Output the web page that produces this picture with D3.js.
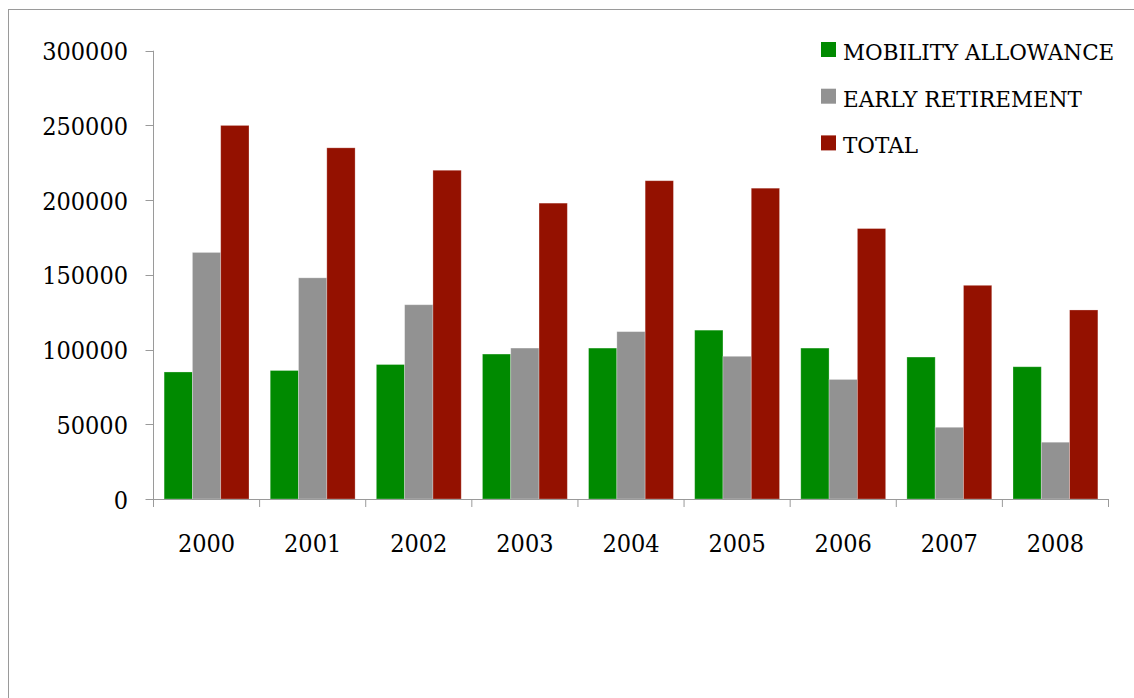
<!DOCTYPE html>
<html>
<head>
<meta charset="utf-8">
<script src="https://cdn.jsdelivr.net/npm/d3@7.9.0/dist/d3.min.js"></script>
<style>
  html, body { margin: 0; padding: 0; background: #fff; }
  svg { display: block; }
  .axis-label { font-family: 'DejaVu Serif Condensed', 'DejaVu Serif', serif; font-stretch: condensed; font-size: 25px; fill: #000; }
  .legend-label { font-family: 'DejaVu Serif', serif; font-size: 21.5px; fill: #000; }
</style>
</head>
<body>
<svg id="chart" width="1134" height="698"></svg>
<script>
const years = ['2000', '2001', '2002', '2003', '2004', '2005', '2006', '2007', '2008'];
const seriesNames = ['MOBILITY ALLOWANCE', 'EARLY RETIREMENT', 'TOTAL'];
const mobility = [85000, 86000, 90000, 97000, 101000, 113000, 101000, 95000, 88500];
const earlyRetirement = [165000, 148000, 130000, 101000, 112000, 95500, 80000, 48000, 38000];
const total = [250000, 235000, 220000, 198000, 213000, 208000, 181000, 143000, 126500];
const yTicks = [0, 50000, 100000, 150000, 200000, 250000, 300000];
const colors = ['#008a00', '#929292', '#941100'];

const seriesValues = [mobility, earlyRetirement, total];

const svg = d3.select('#chart');
const axisColor = '#9a9a9a';

// outer frame (only top and left edges are visible in the picture)
svg.append('rect')
  .attr('x', 8.5).attr('y', 9.5)
  .attr('width', 1200).attr('height', 800)
  .attr('fill', 'none').attr('stroke', axisColor).attr('stroke-width', 1);

const plot = { left: 153.5, right: 1108.5, top: 50.7, bottom: 499 };

const x = d3.scaleBand().domain(years).range([plot.left, plot.right]);
const bw = x.bandwidth();
const x1 = d3.scaleBand().domain(seriesNames).range([bw * 0.1, bw * 0.9]);
const y = d3.scaleLinear().domain([0, 300000]).range([plot.bottom, plot.top]);

// bars
seriesNames.forEach((name, si) => {
  svg.append('g')
    .selectAll('rect')
    .data(years.map((yr, i) => ({ yr, v: seriesValues[si][i] })))
    .join('rect')
    .attr('x', d => x(d.yr) + x1(name))
    .attr('y', d => y(d.v))
    .attr('width', x1.bandwidth())
    .attr('height', d => y(0) - y(d.v))
    .attr('fill', colors[si])
    .attr('stroke', 'rgba(255,255,255,0.35)')
    .attr('stroke-width', 0.8);
});

// y axis
const yAxis = svg.append('g');
yAxis.append('line')
  .attr('x1', plot.left).attr('x2', plot.left)
  .attr('y1', plot.top).attr('y2', plot.bottom)
  .attr('stroke', axisColor);
yAxis.selectAll('line.tick')
  .data(yTicks)
  .join('line')
  .attr('class', 'tick')
  .attr('x1', plot.left - 8).attr('x2', plot.left)
  .attr('y1', d => Math.round(y(d)) + 0.5).attr('y2', d => Math.round(y(d)) + 0.5)
  .attr('stroke', axisColor);
yAxis.selectAll('text')
  .data(yTicks)
  .join('text')
  .attr('class', 'axis-label')
  .attr('x', 128)
  .attr('y', d => y(d) + 9.5)
  .attr('text-anchor', 'end')
  .text(d => d);

// x axis
const xAxis = svg.append('g');
xAxis.append('line')
  .attr('x1', plot.left).attr('x2', plot.right)
  .attr('y1', plot.bottom + 0.5).attr('y2', plot.bottom + 0.5)
  .attr('stroke', axisColor);
const bounds = years.map(d => x(d)).concat([plot.right]);
xAxis.selectAll('line.tick')
  .data(bounds)
  .join('line')
  .attr('class', 'tick')
  .attr('x1', d => d).attr('x2', d => d)
  .attr('y1', plot.bottom).attr('y2', plot.bottom + 8)
  .attr('stroke', axisColor);
xAxis.selectAll('text')
  .data(years)
  .join('text')
  .attr('class', 'axis-label')
  .attr('x', d => x(d) + bw / 2)
  .attr('y', 551.5)
  .attr('text-anchor', 'middle')
  .text(d => d);

// legend
const legend = svg.append('g');
seriesNames.forEach((name, i) => {
  const ly = 42 + i * 46.7;
  legend.append('rect')
    .attr('x', 821).attr('y', ly)
    .attr('width', 15).attr('height', 15)
    .attr('fill', colors[i]);
  legend.append('text')
    .attr('class', 'legend-label')
    .attr('x', 843)
    .attr('y', ly + 18)
    .text(name);
});
</script>
</body>
</html>
